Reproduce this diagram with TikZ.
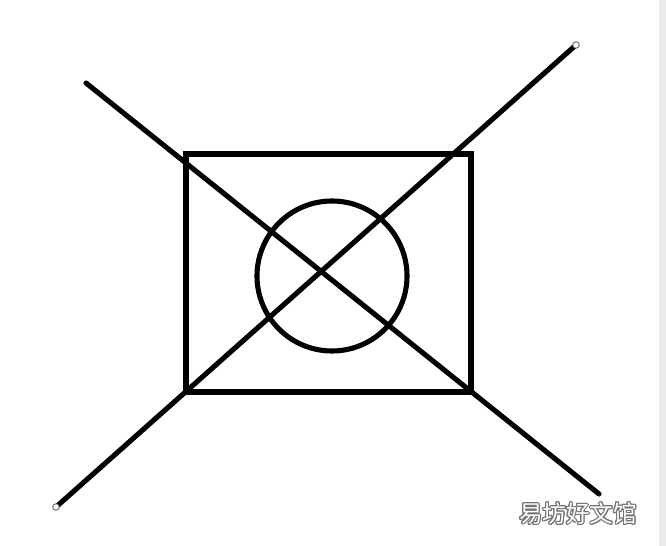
\documentclass[tikz,border=0pt]{standalone}
\usepackage{fontspec}
\usepackage[copies]{contour}
\usepackage{tikz}
\usetikzlibrary{positioning}
\newfontfamily\cjk{Noto Sans CJK SC}
\contourlength{0.6pt}
\tikzset{
  frame/.style={draw=black,line width=2.9pt},
  cross/.style={draw=black,line width=2.9pt,line cap=round},
  tipdot/.style={circle,draw=black!60,fill=white,line width=0.5pt,
                 inner sep=0pt,minimum size=1.3mm},
  signtext/.style={font=\cjk\fontsize{13.4pt}{14pt}\selectfont,text=white},
}

\begin{document}
\begin{tikzpicture}[x=0.02cm,y=-0.02cm]
  \useasboundingbox (0,0) rectangle (666,546);
  \fill[white] (0,0) rectangle (666,546);
  \fill[black!8] (659,0) rectangle (666,546);

  \coordinate (box nw) at (186,154);
  \coordinate (box se) at (471,392);
  \coordinate (ring)   at (332,276);
  \coordinate (a1)     at (86,83);
  \coordinate (a2)     at (599,494);
  \coordinate (b1)     at (576,45);
  \coordinate (b2)     at (56,507);

  \draw[frame] (box nw) rectangle (box se);
  \draw[frame] (ring) circle (75);

  \draw[cross] (a1) -- (a2);
  \draw[cross] (b1) -- (b2);
  \node[tipdot] (b1 tip) at (b1) {};
  \node[tipdot] (b2 tip) at (b2) {};

  \node[signtext] (sign) at (578,514) {\contour{black!55}{易坊好文馆}};
\end{tikzpicture}
\end{document}
